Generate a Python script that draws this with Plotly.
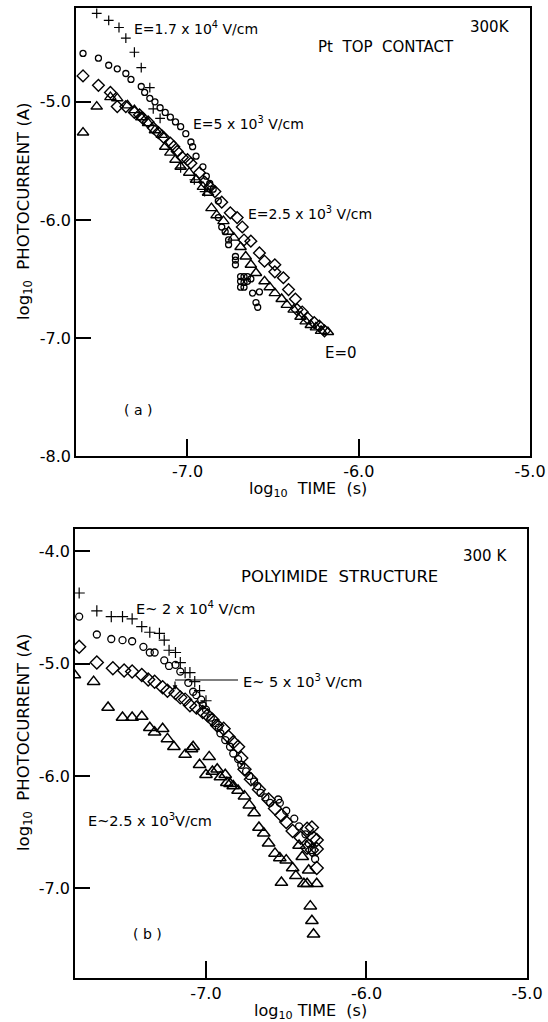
import plotly.graph_objects as go

# ---------------- data: panel (a) Pt top contact ----------------
a_plus_x = [-7.53, -7.46, -7.40, -7.36, -7.31, -7.27, -7.22, -7.20, -7.16, -7.04, -6.96, -6.90]
a_plus_y = [-4.25, -4.31, -4.37, -4.46, -4.58, -4.71, -4.88, -5.06, -5.14, -5.56, -5.66, -5.76]

a_circ_x = [-7.61, -7.52, -7.46, -7.41, -7.36, -7.33, -7.27, -7.25, -7.22, -7.19, -7.16, -7.13,
            -7.10, -7.07, -7.04, -7.01, -6.98, -6.97, -6.95, -6.91, -6.89, -6.87, -6.85, -6.82,
            -6.82, -6.80, -6.78, -6.76, -6.76, -6.72, -6.72, -6.72, -6.69, -6.67, -6.65, -6.69,
            -6.67, -6.65, -6.69, -6.67, -6.63, -6.62, -6.58, -6.60, -6.59]
a_circ_y = [-4.59, -4.63, -4.69, -4.72, -4.76, -4.81, -4.87, -4.92, -4.97, -5.00, -5.05, -5.09,
            -5.13, -5.17, -5.21, -5.27, -5.34, -5.38, -5.46, -5.55, -5.63, -5.69, -5.74, -5.84,
            -5.98, -6.06, -6.10, -6.17, -6.21, -6.31, -6.34, -6.38, -6.48, -6.48, -6.48, -6.52,
            -6.53, -6.52, -6.57, -6.57, -6.50, -6.62, -6.61, -6.70, -6.74]

a_diam_x = [-7.61, -7.52, -7.45, -7.41, -7.36, -7.31, -7.28, -7.26, -7.23, -7.20, -7.17, -7.14,
            -7.10, -7.08, -7.06, -7.03, -7.00, -6.98, -6.93, -6.90, -6.87, -6.84, -6.80, -6.75,
            -6.71, -6.68, -6.67, -6.63, -6.58, -6.55, -6.49, -6.49, -6.44, -6.41, -6.37, -6.36,
            -6.33, -6.30, -6.26, -6.23, -6.20]
a_diam_y = [-4.78, -4.86, -4.92, -5.04, -5.04, -5.09, -5.11, -5.14, -5.17, -5.22, -5.26, -5.30,
            -5.35, -5.38, -5.42, -5.47, -5.49, -5.52, -5.60, -5.68, -5.72, -5.76, -5.85, -5.94,
            -5.98, -6.06, -6.17, -6.18, -6.28, -6.35, -6.38, -6.44, -6.49, -6.59, -6.67, -6.76,
            -6.78, -6.83, -6.87, -6.90, -6.94]

a_tri_x = [-7.61, -7.53, -7.45, -7.41, -7.35, -7.31, -7.27, -7.23, -7.19, -7.15, -7.13, -7.10,
           -7.07, -7.04, -6.99, -6.95, -6.91, -6.88, -6.86, -6.83, -6.79, -6.76, -6.73, -6.69,
           -6.66, -6.63, -6.60, -6.55, -6.52, -6.49, -6.45, -6.42, -6.38, -6.34, -6.31, -6.28,
           -6.25, -6.22, -6.18]
a_tri_y = [-5.26, -5.04, -4.96, -4.97, -5.03, -5.07, -5.13, -5.18, -5.24, -5.28, -5.38, -5.43,
           -5.49, -5.55, -5.60, -5.66, -5.72, -5.77, -5.90, -5.96, -6.01, -6.10, -6.15, -6.23,
           -6.31, -6.38, -6.45, -6.52, -6.57, -6.62, -6.67, -6.72, -6.76, -6.82, -6.86, -6.89,
           -6.91, -6.94, -6.95]

# ---------------- data: panel (b) polyimide structure ----------------
b_plus_x = [-7.79, -7.68, -7.59, -7.52, -7.46, -7.40, -7.35, -7.29, -7.26, -7.23, -7.19, -7.16,
            -7.13, -7.10, -7.07, -7.04, -7.00]
b_plus_y = [-4.37, -4.53, -4.58, -4.58, -4.60, -4.67, -4.72, -4.73, -4.79, -4.88, -4.90, -4.99,
            -5.08, -5.08, -5.16, -5.24, -5.33]

b_circ_x = [-7.79, -7.68, -7.59, -7.52, -7.46, -7.39, -7.35, -7.32, -7.26, -7.23, -7.19, -7.16,
            -7.11, -7.08, -7.06, -7.03, -7.02, -7.00, -6.97, -6.94, -6.92, -6.91, -6.88, -6.85,
            -6.83, -6.80, -6.78, -6.75, -6.73, -6.70, -6.68, -6.66, -6.63, -6.60, -6.55, -6.54,
            -6.50, -6.45, -6.42, -6.38, -6.36, -6.34, -6.32]
b_circ_y = [-4.58, -4.74, -4.78, -4.79, -4.80, -4.85, -4.90, -4.90, -4.97, -5.02, -5.01, -5.07,
            -5.17, -5.25, -5.28, -5.32, -5.37, -5.41, -5.48, -5.53, -5.57, -5.62, -5.68, -5.74,
            -5.80, -5.85, -5.90, -5.96, -6.00, -6.05, -6.09, -6.15, -6.19, -6.24, -6.21, -6.24,
            -6.31, -6.38, -6.45, -6.52, -6.60, -6.66, -6.74]

b_diam_x = [-7.79, -7.68, -7.58, -7.51, -7.46, -7.40, -7.36, -7.32, -7.27, -7.24, -7.19, -7.16,
            -7.13, -7.10, -7.06, -7.02, -6.99, -6.96, -6.93, -6.89, -6.86, -6.83, -6.80, -6.78,
            -6.76, -6.72, -6.67, -6.61, -6.57, -6.53, -6.50, -6.46, -6.41, -6.37, -6.34, -6.31,
            -6.31, -6.34, -6.37, -6.31, -6.33]
b_diam_y = [-4.85, -4.99, -5.04, -5.06, -5.07, -5.10, -5.14, -5.16, -5.21, -5.24, -5.26, -5.30,
            -5.32, -5.37, -5.39, -5.43, -5.46, -5.50, -5.55, -5.58, -5.65, -5.70, -5.74, -5.84,
            -5.94, -6.03, -6.12, -6.21, -6.29, -6.35, -6.41, -6.49, -6.55, -6.47, -6.46, -6.57,
            -6.65, -6.66, -6.64, -6.82, -6.55]

b_tri_x = [-7.82, -7.70, -7.61, -7.52, -7.46, -7.40, -7.35, -7.32, -7.27, -7.24, -7.20, -7.13,
           -7.09, -7.08, -7.04, -7.00, -6.98, -6.96, -6.93, -6.91, -6.88, -6.87, -6.85, -6.83,
           -6.80, -6.76, -6.73, -6.70, -6.67, -6.64, -6.61, -6.57, -6.54, -6.50, -6.46, -6.44,
           -6.53, -6.39, -6.37, -6.31, -6.40, -6.36, -6.42, -6.35, -6.34, -6.33]
b_tri_y = [-5.10, -5.16, -5.39, -5.48, -5.48, -5.47, -5.57, -5.61, -5.58, -5.67, -5.74, -5.81,
           -5.76, -5.74, -5.90, -5.99, -5.83, -5.96, -5.94, -6.01, -5.99, -6.06, -6.07, -6.09,
           -6.13, -6.18, -6.26, -6.33, -6.46, -6.51, -6.60, -6.69, -6.73, -6.75, -6.82, -6.89,
           -6.95, -6.96, -6.96, -6.96, -6.72, -6.84, -6.62, -7.16, -7.29, -7.41]

a_xticks = [-7.0, -6.0, -5.0]
a_yticks = [-5.0, -6.0, -7.0, -8.0]
b_xticks = [-7.0, -6.0, -5.0]
b_yticks = [-4.0, -5.0, -6.0, -7.0]

W, H = 548, 1022
FONT = "DejaVu Sans"

def PX(x):
    return x / W

def PY(y):
    return 1 - y / H

fig = go.Figure()

def add_series(x, y, symbol, size, xa, ya, lw=1.3):
    fig.add_trace(go.Scatter(
        x=x, y=y, mode="markers", xaxis=xa, yaxis=ya, showlegend=False,
        marker=dict(symbol=symbol, size=size, color="black",
                    line=dict(color="black", width=lw))))

# panel (a)
add_series(a_circ_x, a_circ_y, "circle-open", 6, "x", "y", 1.3)
add_series(a_diam_x, a_diam_y, "diamond-open", 9, "x", "y", 1.4)
add_series(a_tri_x, a_tri_y, "triangle-up-open", 10, "x", "y", 1.4)
add_series(a_plus_x, a_plus_y, "cross-thin-open", 7, "x", "y", 1.2)
# panel (b)
add_series(b_circ_x, b_circ_y, "circle-open", 7, "x2", "y2", 1.3)
add_series(b_diam_x, b_diam_y, "diamond-open", 10, "x2", "y2", 1.4)
add_series(b_tri_x, b_tri_y, "triangle-up-open", 11, "x2", "y2", 1.5)
add_series(b_plus_x, b_plus_y, "cross-thin-open", 8, "x2", "y2", 1.2)

def fmt(v):
    return "%.1f" % v

axis_common = dict(showline=True, linecolor="black", linewidth=1.6, mirror=True,
                   ticks="inside", tickcolor="black", tickwidth=1.6,
                   showgrid=False, zeroline=False, automargin=False,
                   tickfont=dict(family=FONT, size=16, color="black"))

fig.update_layout(
    width=W, height=H, margin=dict(l=0, r=0, t=0, b=0),
    paper_bgcolor="white", plot_bgcolor="white",
    xaxis=dict(domain=[PX(76), PX(530)], range=[-7.651, -5.0], anchor="y",
               tickvals=a_xticks, ticktext=[fmt(v) for v in a_xticks], ticklen=17,
               **axis_common),
    yaxis=dict(domain=[PY(456), PY(8)], range=[-8.0, -4.205], anchor="x",
               tickvals=a_yticks, ticktext=[fmt(v) for v in a_yticks], ticklen=15,
               **axis_common),
    xaxis2=dict(domain=[PX(75), PX(527)], range=[-7.816, -5.0], anchor="y2",
                tickvals=b_xticks, ticktext=[fmt(v) for v in b_xticks], ticklen=17,
                **axis_common),
    yaxis2=dict(domain=[PY(978), PY(529)], range=[-7.80, -3.80], anchor="x2",
                tickvals=b_yticks, ticktext=[fmt(v) for v in b_yticks], ticklen=15,
                **axis_common),
)

def note(text, x, y, size=14, xanchor="left", angle=0):
    fig.add_annotation(text=text, x=PX(x), y=PY(y), xref="paper", yref="paper",
                       showarrow=False, xanchor=xanchor, yanchor="middle",
                       textangle=angle,
                       font=dict(family=FONT, size=size, color="black"))

# panel (a) texts
note("E=1.7 x 10<sup>4</sup> V/cm", 132, 28, 14)
note("300K", 468, 27, 15)
note("Pt  TOP  CONTACT", 316, 47, 15)
note("E=5 x 10<sup>3</sup> V/cm", 191, 123, 14)
note("E=2.5 x 10<sup>3</sup> V/cm", 246, 213, 14)
note("E=0", 323, 353, 15)
note("( a )", 122, 410, 14)
note("log<sub>10</sub>  PHOTOCURRENT (A)", 24, 211, 16.5, "center", -90)
note("log<sub>10</sub>  TIME  (s)", 308, 490, 16, "center")

# panel (b) texts
note("300 K", 461, 556, 15)
note("POLYIMIDE  STRUCTURE", 239, 576, 16.5)
note("E~ 2 x 10<sup>4</sup> V/cm", 134, 608, 14.5)
note("E~ 5 x 10<sup>3</sup> V/cm", 241, 681, 14.5)
note("E~2.5 x 10<sup>3</sup>V/cm", 86, 820, 14.5)
note("( b )", 131, 934, 14)
note("log<sub>10</sub>  PHOTOCURRENT (A)", 24, 742, 16.5, "center", -90)
note("log<sub>10</sub> TIME  (s)", 310, 1011, 16, "center")

# leader line + arrow for E~5x10^3 label in panel (b)
fig.add_shape(type="line", xref="paper", yref="paper",
              x0=PX(175), y0=PY(680), x1=PX(238), y1=PY(680),
              line=dict(color="black", width=1.2))
fig.add_annotation(x=PX(175), y=PY(690), ax=0, ay=-10,
                   xref="paper", yref="paper",
                   showarrow=True, arrowhead=2, arrowsize=0.8, arrowwidth=1.2,
                   arrowcolor="black", text="")

fig.write_html("out.html")
